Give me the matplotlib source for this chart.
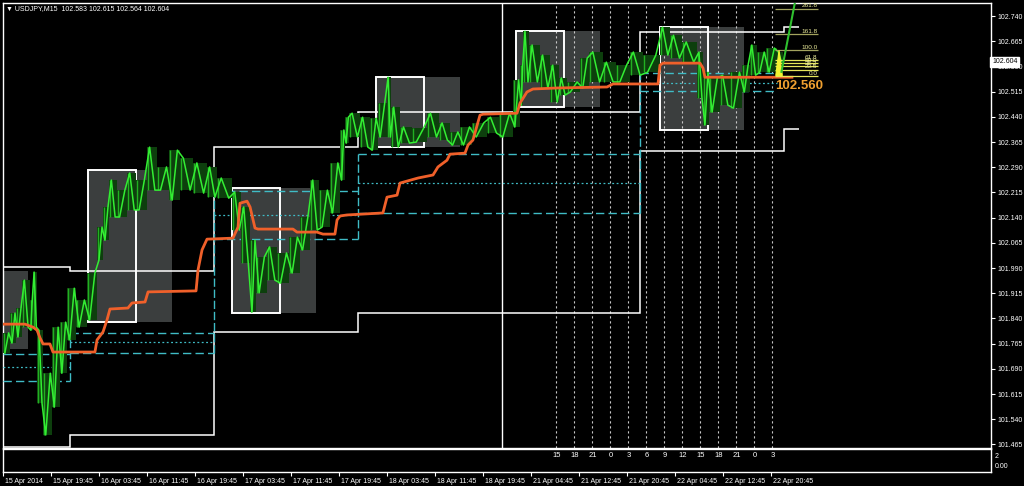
import numpy as np
import matplotlib.pyplot as plt
from matplotlib.patches import Rectangle, Polygon
import matplotlib.transforms as mtransforms

plt.rcParams['font.family'] = ['Liberation Sans', 'DejaVu Sans']

# USDJPY M15, bar index 0 = 15 Apr 11:45
# price read in chunks of bars: start bar, high, low
chunk_start = [0, 5, 9, 13, 18, 20, 23, 27, 33, 38, 43, 49, 56, 63, 67, 71, 76, 83, 89, 96,
               103, 111, 118, 127, 136, 143, 153, 159, 165, 169, 176, 183, 191, 198, 205, 211,
               218, 225, 228, 231, 238, 245, 250, 256, 259, 265, 273, 283, 291, 298, 305, 313,
               323, 331, 340, 345, 347, 351, 358, 365, 371, 376, 385, 391, 400, 409, 418, 427,
               438, 445, 453, 463, 467, 471, 478, 485, 493, 498, 503, 509, 516]
last_bar = 520
chunk_high = [101.797, 101.856, 101.871, 101.954, 101.895, 101.978, 101.805, 101.677, 101.814, 101.829,
              101.930, 101.895, 101.975, 102.112, 102.172, 102.252, 102.222, 102.273, 102.252, 102.350,
              102.291, 102.341, 102.317, 102.303, 102.291, 102.258, 102.216, 102.172, 102.073, 102.023,
              102.053, 102.035, 102.082, 102.142, 102.252, 102.222, 102.303, 102.401, 102.439, 102.451,
              102.439, 102.436, 102.481, 102.558, 102.469, 102.410, 102.407, 102.451, 102.422, 102.395,
              102.410, 102.422, 102.439, 102.451, 102.550, 102.594, 102.695, 102.654, 102.624, 102.594,
              102.556, 102.544, 102.615, 102.633, 102.603, 102.594, 102.633, 102.624, 102.707, 102.683,
              102.663, 102.633, 102.573, 102.556, 102.564, 102.573, 102.594, 102.654, 102.633, 102.645,
              102.633]
chunk_low = [101.737, 101.767, 101.785, 101.814, 101.805, 101.814, 101.588, 101.493, 101.576, 101.677,
             101.776, 101.814, 101.835, 102.014, 102.073, 102.142, 102.142, 102.163, 102.163, 102.222,
             102.222, 102.192, 102.222, 102.213, 102.201, 102.198, 102.103, 102.005, 101.859, 101.916,
             101.954, 101.945, 101.975, 102.044, 102.103, 102.112, 102.154, 102.252, 102.362, 102.380,
             102.350, 102.341, 102.380, 102.380, 102.350, 102.362, 102.365, 102.380, 102.371, 102.356,
             102.356, 102.380, 102.392, 102.380, 102.410, 102.475, 102.544, 102.544, 102.526, 102.484,
             102.505, 102.514, 102.526, 102.544, 102.544, 102.544, 102.564, 102.573, 102.624, 102.615,
             102.603, 102.496, 102.416, 102.454, 102.475, 102.466, 102.514, 102.564, 102.573, 102.573,
             102.604]
last_close = 102.604

# orange average line (bar, price)
avg_bar = [0, 14.7, 20, 22.7, 24.7, 26.7, 31.3, 33.3, 61.3, 62.7, 66.7, 69.3, 71.3, 83.3, 86, 94.7,
           96.7, 128.7, 130, 132.7, 136, 153.3, 156.7, 158, 162.7, 164.7, 168, 170, 193.3, 196,
           209.3, 213.3, 221.3, 222.7, 224.7, 229.3, 253.3, 256, 262.7, 264.7, 276.7, 286.7, 290,
           296, 298, 308, 310, 313.3, 318, 320, 342.7, 344.7, 349.3, 353.3, 369.3, 402.7, 406.7,
           436.7, 438, 440, 464.7, 466.7, 468, 526]
avg_price = [101.823, 101.823, 101.814, 101.805, 101.782, 101.764, 101.764, 101.740, 101.740, 101.776,
             101.800, 101.835, 101.868, 101.871, 101.886, 101.889, 101.919, 101.922, 101.984, 102.044,
             102.076, 102.079, 102.112, 102.183, 102.189, 102.172, 102.109, 102.106, 102.106, 102.097,
             102.097, 102.091, 102.091, 102.133, 102.145, 102.148, 102.154, 102.201, 102.207, 102.243,
             102.258, 102.267, 102.291, 102.311, 102.329, 102.332, 102.356, 102.371, 102.445, 102.448,
             102.451, 102.481, 102.514, 102.523, 102.526, 102.529, 102.538, 102.538, 102.594, 102.600,
             102.600, 102.585, 102.558, 102.558]

# previous-day range (white steps)
day_edges = [0, 45, 141, 237, 425, 521, 531]
range_high = [101.994, 101.981, 102.350, 102.454, 102.692, 102.707]
range_low = [101.457, 101.493, 101.800, 101.856, 102.338, 102.404]

# cyan levels per day
lvl_start = [0, 45, 141, 237, 425]
lvl_end = [45, 141, 237, 425, 516]
lvl_top = [101.734, 101.797, 102.220, 102.329, 102.570]
lvl_mid = [101.695, 101.770, 102.148, 102.243, 102.541]
lvl_bot = [101.655, 101.737, 102.076, 102.154, 102.517]

# session boxes
box_start = [-39, 57, 153, 249, 342, 438]
box_high = [101.981, 102.282, 102.228, 102.558, 102.696, 102.708]
box_low = [101.749, 101.829, 101.856, 102.350, 102.469, 102.401]
box_len = 32
box_ext = 56

week_sep_bar = 333
hour_bars = [369, 381, 393, 405, 417, 429, 441, 453, 465, 477, 489, 501, 513]
hour_labels = ['15', '18', '21', '0', '3', '6', '9', '12', '15', '18', '21', '0', '3']

time_bars = list(range(0, 513, 32))
time_labels = ['15 Apr 2014', '15 Apr 19:45', '16 Apr 03:45', '16 Apr 11:45', '16 Apr 19:45',
               '17 Apr 03:45', '17 Apr 11:45', '17 Apr 19:45', '18 Apr 03:45', '18 Apr 11:45',
               '18 Apr 19:45', '21 Apr 04:45', '21 Apr 12:45', '21 Apr 20:45', '22 Apr 04:45',
               '22 Apr 12:45', '22 Apr 20:45']

price_ticks = [101.465 + 0.075 * k for k in range(18)]

fib_low, fib_high = 102.561, 102.638
fib_levels = [0.0, 23.6, 38.2, 50.0, 61.8, 100.0, 161.8, 261.8]
fib_from, fib_to = 514.7, 543.3
trend_bar = [519, 529]
trend_price = [102.574, 102.804]
label_level = 102.560

W, H = 1024, 486
fig = plt.figure(figsize=(W / 100, H / 100), dpi=100, facecolor='black')
ax = fig.add_axes([3 / W, 1 - 448 / H, 988 / W, 445 / H], facecolor='black')
sub = fig.add_axes([3 / W, 1 - 472 / H, 988 / W, 23 / H], facecolor='black')

xmax = 658.7
ax.set_xlim(0, xmax)
ax.set_ylim(101.4543, 102.779)
sub.set_xlim(0, xmax)
sub.set_ylim(0, 1)

for a in (ax, sub):
    for s in a.spines.values():
        s.set_color('white')
        s.set_linewidth(1)

# boxes
for s, hi, lo in zip(box_start, box_high, box_low):
    ax.add_patch(Rectangle((s, lo), box_ext, hi - lo, facecolor='#3b3e3e', edgecolor='none', zorder=1))
    ax.add_patch(Rectangle((s, lo), box_len, hi - lo, fill=False, edgecolor='white', lw=1.4, zorder=3))

# vertical lines
for b in hour_bars:
    ax.axvline(b, color='#c8c8c8', lw=0.8, ls=(0, (2, 2.5)), zorder=2)
ax.axvline(week_sep_bar, color='white', lw=1, zorder=2)

# previous day range
ax.stairs(range_high, day_edges, baseline=None, color='white', lw=1.1, zorder=3)
ax.stairs(range_low, day_edges, baseline=None, color='white', lw=1.1, zorder=3)

# cyan levels
cyan = '#3fbcc6'
for i in range(len(lvl_start)):
    ax.hlines(lvl_top[i], lvl_start[i], lvl_end[i], color=cyan, lw=1, ls=(0, (6, 3)), zorder=3)
    ax.hlines(lvl_mid[i], lvl_start[i], lvl_end[i], color=cyan, lw=0.9, ls=(0, (1.5, 2)), zorder=3)
    ax.hlines(lvl_bot[i], lvl_start[i], lvl_end[i], color=cyan, lw=1, ls=(0, (6, 3)), zorder=3)
    if i > 0:
        ax.vlines(lvl_start[i], lvl_bot[i - 1], lvl_top[i], color=cyan, lw=1, ls=(0, (6, 2)), zorder=3)

# price: chunk range band + zigzag through highs/lows
cs = np.array(chunk_start + [last_bar], float)
hi_arr = np.array(chunk_high + [chunk_high[-1]])
lo_arr = np.array(chunk_low + [chunk_low[-1]])
ax.fill_between(cs, lo_arr, hi_arr, step='post', color='#0d3f0d', lw=0, zorder=4)
mids = (np.array(chunk_high) + np.array(chunk_low)) / 2
zx, zy = [], []
for i in range(len(chunk_high)):
    a, b = cs[i], cs[i + 1]
    w = b - a
    up = i + 1 < len(mids) and mids[i + 1] > mids[i]
    p1, p2 = (chunk_low[i], chunk_high[i]) if up else (chunk_high[i], chunk_low[i])
    zx += [a + 0.25 * w, a + 0.75 * w]
    zy += [p1, p2]
ax.vlines(cs[:-1] + 0.6, chunk_low, chunk_high, color='#22b022', lw=1.0, zorder=4.5)
ax.plot(zx, zy, color='#33ee33', lw=1.1, zorder=5)

# orange average
ax.plot(avg_bar, avg_price, color='#f0602a', lw=2.0, zorder=6, solid_joinstyle='round')

# fibonacci
fr = fib_high - fib_low
for L in fib_levels:
    p = fib_low + fr * L / 100
    col = '#e6e65a' if L < 70 else '#a3a35e'
    ax.hlines(p, fib_from, fib_to, color=col, lw=0.9, zorder=7)
    ax.text(fib_to - 0.3, p + 0.002, '%.1f' % L, color='#ecec9a', fontsize=4.6,
            ha='right', va='bottom', zorder=8)
ax.add_patch(Polygon([[515.2, fib_low + 0.002], [517.4, fib_high], [519.6, fib_low + 0.002]],
                     closed=True, facecolor='#f2f230', edgecolor='#f2f230', lw=0.8, zorder=8))
ax.plot(trend_bar, trend_price, color='#2fc02f', lw=1.5, zorder=8)
ax.text(514.6, label_level - 0.029, '%.3f' % label_level, color='#f0a030', fontsize=9.5,
        fontweight='bold', ha='left', va='center', zorder=9)

# right price scale
ax.yaxis.tick_right()
ax.set_yticks(price_ticks)
ax.set_yticklabels(['%.3f' % t for t in price_ticks])
ax.tick_params(axis='y', colors='white', labelsize=5, length=3, width=0.8, pad=2)
ax.set_xticks([])
ybl = mtransforms.blended_transform_factory(ax.transAxes, ax.transData)
ax.text(1.001, last_close, '%.3f' % last_close, transform=ybl, fontsize=5, color='black',
        ha='left', va='center', clip_on=False, zorder=10,
        bbox=dict(facecolor='white', edgecolor='white', pad=1.2))

# sub window
sub.set_yticks([])
for b, lab in zip(hour_bars, hour_labels):
    sub.text(b, 0.72, lab, color='white', fontsize=5.5, ha='center', va='center')
sub.text(1.004, 0.68, '2', transform=sub.transAxes, color='white', fontsize=5, va='center')
sub.text(1.004, 0.25, '0.00', transform=sub.transAxes, color='white', fontsize=5, va='center')
sub.set_xticks(time_bars)
sub.set_xticklabels(time_labels)
sub.tick_params(axis='x', colors='white', labelsize=5, length=3, width=0.8, pad=1)
off = mtransforms.ScaledTranslation(1.5 / 72, 0, fig.dpi_scale_trans)
for lbl in sub.get_xticklabels():
    lbl.set_horizontalalignment('left')
    lbl.set_transform(lbl.get_transform() + off)

fig.text(6 / W, 1 - 9 / H, '\u25bc USDJPY,M15  102.583 102.615 102.564 102.604', color='white',
         fontsize=5, va='center', ha='left')

fig.savefig('out.png', dpi=100, facecolor='black')
